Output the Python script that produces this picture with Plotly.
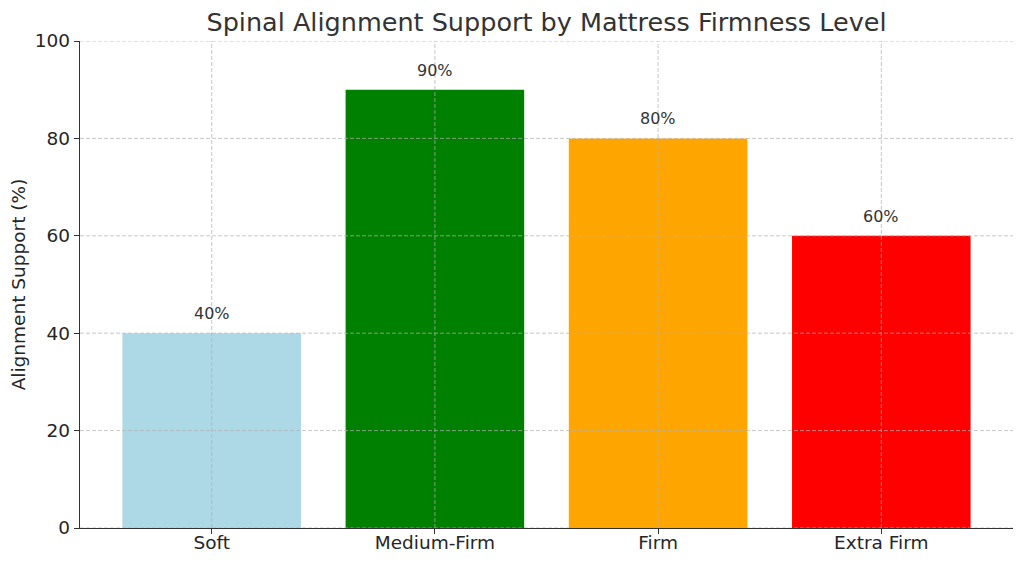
import plotly.graph_objects as go

categories = ["Soft", "Medium-Firm", "Firm", "Extra Firm"]
support = [40, 90, 80, 60]
bar_colors = ["lightblue", "green", "orange", "red"]
y_ticks = [0, 20, 40, 60, 80, 100]

FONT = "DejaVu Sans"
x_idx = list(range(len(categories)))

fig = go.Figure()
fig.add_trace(go.Bar(
    x=x_idx, y=support, width=0.8,
    marker=dict(color=bar_colors, line=dict(width=0)),
    hoverinfo="skip",
))

annotations = []
for i, v in zip(x_idx, support):
    annotations.append(dict(x=i, y=v, xref="x", yref="y", text=f"{v}%", showarrow=False,
                            xanchor="center", yanchor="bottom", yshift=8,
                            font=dict(family=FONT, size=16, color="#333333")))

shapes = []
grid_style = dict(color="rgba(176,176,176,0.7)", width=1, dash="4px,2px")
for t in y_ticks:
    shapes.append(dict(type="line", xref="paper", x0=0, x1=1, yref="y", y0=t, y1=t,
                       line=grid_style, layer="above"))
for i in x_idx:
    shapes.append(dict(type="line", xref="x", x0=i, x1=i, yref="paper", y0=0, y1=1,
                       line=grid_style, layer="above"))

fig.update_layout(
    width=1016, height=556,
    margin=dict(l=72, r=11, t=33, b=36),
    paper_bgcolor="white", plot_bgcolor="white",
    showlegend=False,
    bargap=0.2,
    title=dict(text="Spinal Alignment Support by Mattress Firmness Level",
               x=0.5, xanchor="center", xref="paper", y=0.975, yanchor="middle",
               font=dict(family=FONT, size=25.5, color="#333333")),
    font=dict(family=FONT, color="#262626"),
    shapes=shapes,
    annotations=annotations,
    xaxis=dict(
        range=[-0.59, 3.59], tickmode="array", tickvals=x_idx, ticktext=categories,
        showgrid=False, zeroline=False, showline=True, linecolor="#333333", linewidth=1.4,
        ticks="outside", ticklen=5, tickwidth=1.2, tickcolor="#333333", automargin=False,
        ticklabelstandoff=-7,
        tickfont=dict(family=FONT, size=18.5, color="#262626"),
    ),
    yaxis=dict(
        range=[0, 100], tickmode="array", tickvals=y_ticks,
        showgrid=False, zeroline=False, showline=True, linecolor="#333333", linewidth=1.4,
        ticks="outside", ticklen=5, tickwidth=1.2, tickcolor="#333333", automargin=False,
        tickfont=dict(family=FONT, size=18.5, color="#262626"),
        title=dict(text="Alignment Support (%)", font=dict(family=FONT, size=18.5, color="#262626"), standoff=10),
    ),
)

fig.write_html("out.html")
